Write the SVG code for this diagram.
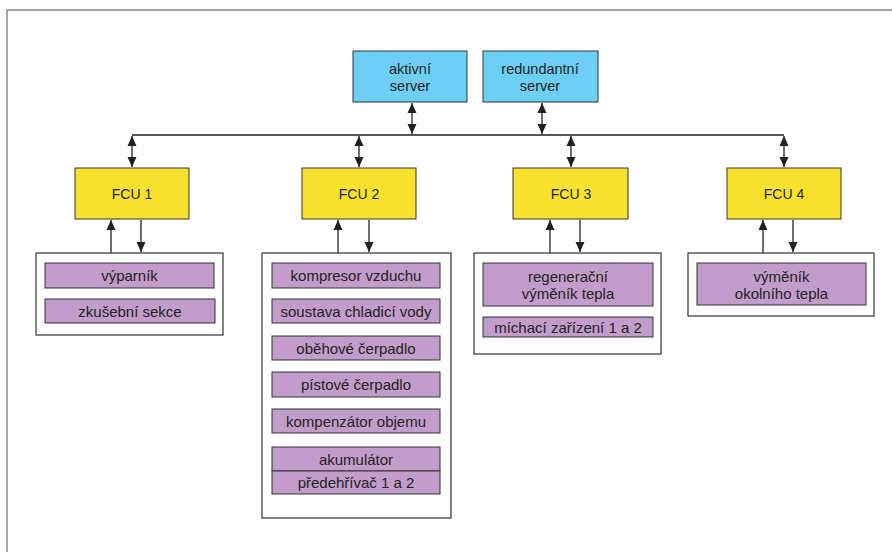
<svg xmlns="http://www.w3.org/2000/svg" width="892" height="552" viewBox="0 0 892 552">
<style>
text{font-family:"Liberation Sans",Arial,sans-serif;fill:#231f20;text-anchor:middle}
.t{font-size:15px}
.s{font-size:14.5px}
.f{font-size:14px}
.srv{fill:#6dcff6;stroke:#333;stroke-width:1}
.fcu{fill:#f9e22d;stroke:#333;stroke-width:1}
.grp{fill:#fff;stroke:#333;stroke-width:1.2}
.it{fill:#c29ccb;stroke:#333;stroke-width:1}
.c{stroke:#231f20;stroke-width:1.3;fill:none}
.frame{stroke:#888;stroke-width:1.5;fill:none}
</style>
<defs>
<marker id="ah" markerUnits="userSpaceOnUse" markerWidth="10" markerHeight="10" viewBox="0 0 10 10" refX="10" refY="5" orient="auto-start-reverse">
<path d="M0,0.5 L10,5 L0,9.5 Z" fill="#231f20"/>
</marker>
</defs>
<rect width="892" height="552" fill="#fff"/>
<path class="frame" d="M7,552 V10 H892"/>

<g id="connectors">
<line class="c" x1="132" y1="135" x2="784" y2="135"/>
<line class="c" x1="412" y1="103" x2="412" y2="134" marker-start="url(#ah)" marker-end="url(#ah)"/>
<line class="c" x1="542" y1="103" x2="542" y2="134" marker-start="url(#ah)" marker-end="url(#ah)"/>
<line class="c" x1="132" y1="136" x2="132" y2="167" marker-start="url(#ah)" marker-end="url(#ah)"/>
<line class="c" x1="359" y1="136" x2="359" y2="167" marker-start="url(#ah)" marker-end="url(#ah)"/>
<line class="c" x1="571" y1="136" x2="571" y2="167" marker-start="url(#ah)" marker-end="url(#ah)"/>
<line class="c" x1="784" y1="136" x2="784" y2="167" marker-start="url(#ah)" marker-end="url(#ah)"/>
<line class="c" x1="111" y1="253" x2="111" y2="220" marker-end="url(#ah)"/>
<line class="c" x1="141" y1="220" x2="141" y2="252" marker-end="url(#ah)"/>
<line class="c" x1="338" y1="253" x2="338" y2="220" marker-end="url(#ah)"/>
<line class="c" x1="369" y1="220" x2="369" y2="252" marker-end="url(#ah)"/>
<line class="c" x1="550" y1="253" x2="550" y2="220" marker-end="url(#ah)"/>
<line class="c" x1="580" y1="220" x2="580" y2="252" marker-end="url(#ah)"/>
<line class="c" x1="763" y1="253" x2="763" y2="220" marker-end="url(#ah)"/>
<line class="c" x1="793" y1="220" x2="793" y2="252" marker-end="url(#ah)"/>
</g>

<g id="aktivni-server">
<rect class="srv" x="353" y="51" width="114" height="51"/>
<text class="s" x="410" y="74">aktivní</text>
<text class="s" x="410" y="91">server</text>
</g>
<g id="redundantni-server">
<rect class="srv" x="483" y="51" width="115" height="51"/>
<text class="s" x="540" y="74">redundantní</text>
<text class="s" x="540" y="91">server</text>
</g>

<g id="fcu1"><rect class="fcu" x="75" y="168" width="114" height="51"/><text class="f" x="132" y="199">FCU 1</text></g>
<g id="fcu2"><rect class="fcu" x="302" y="168" width="114" height="51"/><text class="f" x="359" y="199">FCU 2</text></g>
<g id="fcu3"><rect class="fcu" x="513" y="168" width="115" height="51"/><text class="f" x="571" y="199">FCU 3</text></g>
<g id="fcu4"><rect class="fcu" x="727" y="168" width="114" height="51"/><text class="f" x="784" y="199">FCU 4</text></g>

<g id="group1">
<rect class="grp" x="36" y="253" width="187" height="82"/>
<rect class="it" x="45" y="263" width="169" height="25"/><text class="t" x="129.500" y="281">výparník</text>
<rect class="it" x="45" y="299" width="170" height="24"/><text class="t" x="130" y="316.500">zkušební sekce</text>
</g>

<g id="group2">
<rect class="grp" x="262" y="253" width="189" height="265"/>
<rect class="it" x="272" y="263" width="168" height="25"/><text class="t" x="356" y="281">kompresor vzduchu</text>
<rect class="it" x="272" y="299" width="168" height="24"/><text class="t" x="356" y="316.500">soustava chladicí vody</text>
<rect class="it" x="272" y="336" width="168" height="24"/><text class="t" x="356" y="353.500">oběhové čerpadlo</text>
<rect class="it" x="272" y="372" width="168" height="25"/><text class="t" x="356" y="390">pístové čerpadlo</text>
<rect class="it" x="272" y="409" width="168" height="24"/><text class="t" x="356" y="426.500">kompenzátor objemu</text>
<rect class="it" x="272" y="447" width="168" height="24"/><text class="t" x="356" y="464.500">akumulátor</text>
<rect class="it" x="272" y="471" width="168" height="23"/><text class="t" x="356" y="488">předehřívač 1 a 2</text>
</g>

<g id="group3">
<rect class="grp" x="474" y="253" width="187" height="101"/>
<rect class="it" x="483" y="263" width="170" height="43"/>
<text class="t" x="568" y="282">regenerační</text>
<text class="t" x="568" y="299">výměník tepla</text>
<rect class="it" x="483" y="317" width="170" height="20"/><text class="t" x="568" y="332.500">míchací zařízení 1 a 2</text>
</g>

<g id="group4">
<rect class="grp" x="688" y="253" width="186" height="63"/>
<rect class="it" x="697" y="263" width="169" height="42"/>
<text class="t" x="781.500" y="282">výměník</text>
<text class="t" x="781.500" y="298.500">okolního tepla</text>
</g>
</svg>
